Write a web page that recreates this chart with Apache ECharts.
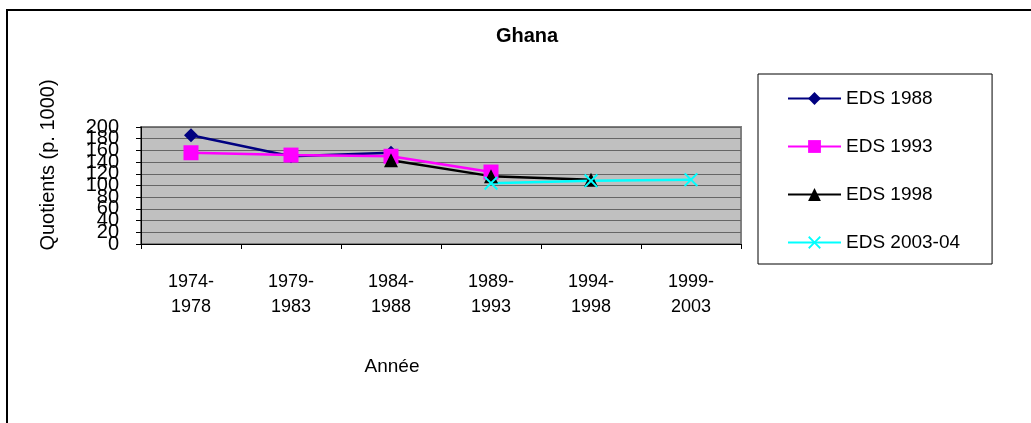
<!DOCTYPE html>
<html>
<head>
<meta charset="utf-8">
<script src="https://cdn.jsdelivr.net/npm/echarts@6/dist/echarts.min.js"></script>
<style>
  html, body { margin: 0; padding: 0; background: #fff; }
  #main { width: 1031px; height: 423px; }
</style>
</head>
<body>
<div id="main"></div>
<script>
// categories and series values
var periods = ['1974-\n1978', '1979-\n1983', '1984-\n1988', '1989-\n1993', '1994-\n1998', '1999-\n2003'];
var eds1988 = [186, 150, 156, null, null, null];
var eds1993 = [156, 152, 150, 123, null, null];
var eds1998 = [null, null, 143, 116, 110, null];
var eds2003 = [null, null, null, 104, 108, 110];
var seriesNames = ['EDS 1988', 'EDS 1993', 'EDS 1998', 'EDS 2003-04'];
var yMin = 0, yMax = 200, yStep = 20;

var font = 'Liberation Sans, Arial, sans-serif';
// croix "x" (pas de symbole natif)
var crossPath = 'path://M0,1L1,0L5,4L9,0L10,1L6,5L10,9L9,10L5,6L1,10L0,9L4,5Z';

// les libellés de l'axe Y se chevauchent dans l'original ; ECharts masque les voisins qui se
// chevauchent, donc on répartit les graduations paires/impaires sur deux axes superposés
function yLabel(parity) {
    return function (v) {
        return (Math.round(v / yStep) % 2 === parity) ? String(v) : '';
    };
}

var myChart = echarts.init(document.getElementById('main'));
myChart.setOption({
    animation: false,
    textStyle: { fontFamily: font },
    title: {
        text: 'Ghana',
        left: 522,
        top: 21,
        textAlign: 'center',
        textStyle: { fontSize: 20, fontWeight: 'bold', color: '#000', fontFamily: font }
    },
    grid: {
        left: 141,
        top: 127,
        right: 290,
        bottom: 179,
        show: true,
        backgroundColor: '#C0C0C0',
        borderColor: '#808080',
        borderWidth: 2
    },
    legend: {
        orient: 'vertical',
        left: 758,
        top: 74,
        padding: [15, 32, 12, 29],
        itemWidth: 53,
        itemHeight: 16,
        itemGap: 29,
        borderColor: '#000',
        borderWidth: 1,
        data: seriesNames,
        textStyle: { fontSize: 19, color: '#000', fontFamily: font }
    },
    xAxis: {
        type: 'category',
        data: periods,
        boundaryGap: true,
        axisLine: { lineStyle: { color: '#000', width: 1 } },
        axisTick: { show: true, length: 5, lineStyle: { color: '#000' } },
        axisLabel: { margin: 26, fontSize: 18, lineHeight: 25, color: '#000', fontFamily: font, interval: 0 },
        splitLine: { show: false }
    },
    yAxis: [
        {
            type: 'value',
            min: yMin,
            max: yMax,
            interval: yStep,
            position: 'left',
            axisLine: { show: true, lineStyle: { color: '#000', width: 1 } },
            axisTick: { show: true, length: 5, lineStyle: { color: '#000' } },
            axisLabel: { margin: 22, fontSize: 20, color: '#000', fontFamily: font, showMinLabel: true, showMaxLabel: true, formatter: yLabel(0) },
            splitLine: { show: true, lineStyle: { color: '#666', width: 1 } }
        },
        {
            type: 'value',
            min: yMin,
            max: yMax,
            interval: yStep,
            position: 'left',
            offset: 0,
            axisLine: { show: false },
            axisTick: { show: false },
            axisLabel: { margin: 22, fontSize: 20, color: '#000', fontFamily: font, showMinLabel: true, showMaxLabel: true, formatter: yLabel(1) },
            splitLine: { show: false }
        }
    ],
    graphic: [
        {
            type: 'rect',
            shape: { x: 7, y: 10, width: 1100, height: 500 },
            style: { fill: 'none', stroke: '#000', lineWidth: 2 },
            silent: true
        },
        {
            type: 'text',
            x: 48,
            y: 165,
            rotation: Math.PI / 2,
            style: { text: 'Quotients (p. 1000)', align: 'center', verticalAlign: 'middle', fontSize: 20, fill: '#000', fontFamily: font }
        },
        {
            type: 'text',
            x: 392,
            y: 367,
            style: { text: 'Année', align: 'center', verticalAlign: 'middle', fontSize: 19, fill: '#000', fontFamily: font }
        }
    ],
    series: [
        {
            name: seriesNames[0], type: 'line', data: eds1988, yAxisIndex: 0,
            symbol: 'diamond', symbolSize: 14,
            lineStyle: { color: '#000080', width: 2.5 },
            itemStyle: { color: '#000080' }
        },
        {
            name: seriesNames[1], type: 'line', data: eds1993, yAxisIndex: 0,
            symbol: 'rect', symbolSize: 15,
            lineStyle: { color: '#FF00FF', width: 2.5 },
            itemStyle: { color: '#FF00FF' }
        },
        {
            name: seriesNames[2], type: 'line', data: eds1998, yAxisIndex: 0,
            symbol: 'triangle', symbolSize: 14,
            lineStyle: { color: '#000000', width: 2.5 },
            itemStyle: { color: '#000000' }
        },
        {
            name: seriesNames[3], type: 'line', data: eds2003, yAxisIndex: 0,
            symbol: crossPath, symbolSize: 14,
            lineStyle: { color: '#00FFFF', width: 2.5 },
            itemStyle: { color: '#00FFFF' }
        }
    ]
});
</script>
</body>
</html>
